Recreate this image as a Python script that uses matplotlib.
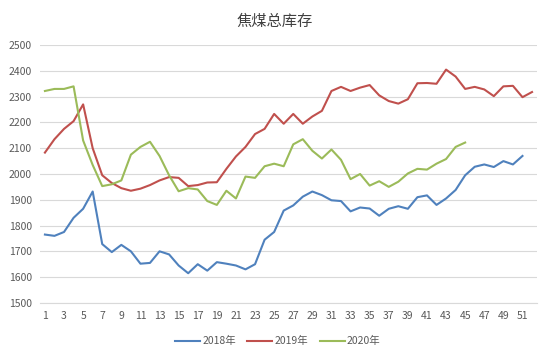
import numpy as np
import matplotlib
matplotlib.use("Agg")
import matplotlib.pyplot as plt

plt.rcParams["font.family"] = ["Noto Sans CJK SC", "DejaVu Sans"]

weeks = list(range(1, 53))

# 2018年
stock_2018 = [1765, 1760, 1775, 1830, 1865, 1932, 1728, 1697, 1725, 1700,
              1652, 1655, 1700, 1688, 1645, 1615, 1650, 1625, 1658, 1652,
              1645, 1630, 1650, 1745, 1775, 1858, 1878, 1912, 1932, 1918,
              1898, 1895, 1855, 1870, 1866, 1838, 1865, 1875, 1865, 1910,
              1917, 1880, 1905, 1938, 1995, 2028, 2037, 2027, 2050, 2037,
              2070]
# 2019年
stock_2019 = [2083, 2135, 2175, 2205, 2270, 2100, 1995, 1965, 1945, 1935,
              1943, 1957, 1975, 1988, 1985, 1953, 1957, 1967, 1968, 2020,
              2068, 2105, 2155, 2175, 2233, 2195, 2233, 2195, 2223, 2245,
              2322, 2338, 2322, 2335, 2345, 2305, 2283, 2273, 2290, 2352,
              2353, 2350, 2405, 2378, 2330, 2338, 2328, 2302, 2340, 2342,
              2298, 2318]
# 2020年
stock_2020 = [2322, 2330, 2330, 2340, 2130, 2035, 1953, 1960, 1975, 2075,
              2105, 2125, 2070, 1995, 1933, 1945, 1940, 1895, 1880, 1935,
              1905, 1990, 1985, 2030, 2040, 2030, 2115, 2135, 2090, 2060,
              2095, 2055, 1980, 2000, 1955, 1972, 1950, 1970, 2002, 2020,
              2017, 2040, 2058, 2105, 2122]

fig = plt.figure(figsize=(5.5, 3.58), dpi=100)
ax = fig.add_axes([0.073, 0.154, 0.903, 0.72])

ax.plot(weeks[:len(stock_2018)], stock_2018, color="#4F81BD", lw=1.5, label="2018年")
ax.plot(weeks[:len(stock_2019)], stock_2019, color="#C0504D", lw=1.5, label="2019年")
ax.plot(weeks[:len(stock_2020)], stock_2020, color="#9BBB59", lw=1.5, label="2020年")

ax.set_xlim(0.5, 52.5)
ax.set_ylim(1500, 2500)
ax.set_yticks(np.arange(1500, 2501, 100))
ax.set_xticks(range(1, 52, 2))
ax.grid(axis="y", color="#D9D9D9", lw=0.8)
ax.set_axisbelow(True)
for s in ax.spines.values():
    s.set_visible(False)
ax.spines["bottom"].set_visible(True)
ax.spines["bottom"].set_color("#D9D9D9")
ax.tick_params(length=0, labelsize=7.5, colors="#595959", pad=6)

fig.suptitle("焦煤总库存", x=0.5, y=0.965, fontsize=11, color="#404040")
fig.legend(loc="center", bbox_to_anchor=(0.505, 0.047), ncol=3, frameon=False,
           fontsize=7.5, labelcolor="#595959", handlelength=2.4, columnspacing=1.1,
           handletextpad=0.2)

fig.savefig("out.png", dpi=100)
